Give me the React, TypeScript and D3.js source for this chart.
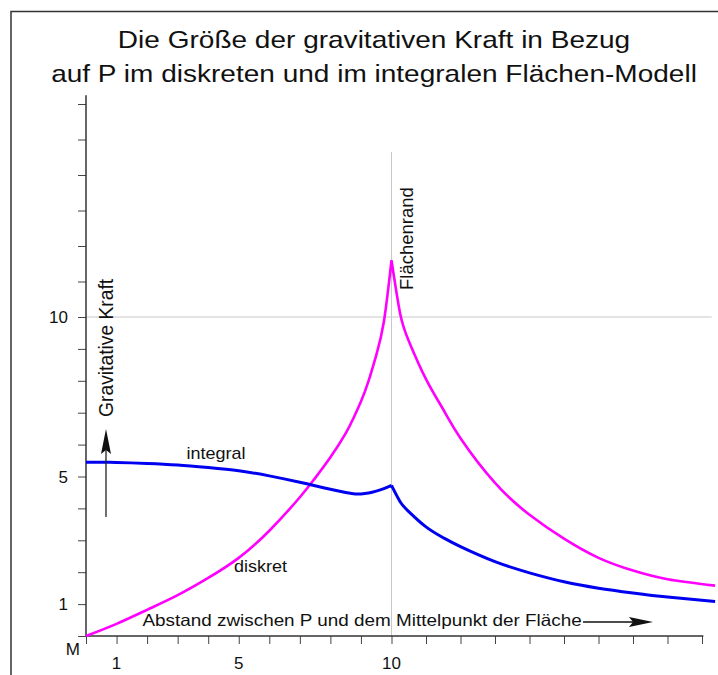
import { useEffect, useRef } from "react";
import * as d3 from "d3";

const titleLines = [
  "Die Größe der gravitativen Kraft in Bezug",
  "auf P im diskreten und im integralen Flächen-Modell",
];

// inside the area: distance from M up to the rim (10)
const distInner = [0, 1, 2, 3, 4, 5, 6, 7, 7.5, 8, 8.5, 8.75, 9, 9.25, 9.5, 9.75, 10];
const diskretInner = [0, 0.38, 0.82, 1.28, 1.82, 2.45, 3.3, 4.35, 4.95, 5.6, 6.35, 6.82, 7.35, 8.0, 8.8, 9.85, 11.6];
const integralInner = [5.45, 5.44, 5.41, 5.36, 5.28, 5.18, 5.02, 4.82, 4.71, 4.6, 4.5, 4.46, 4.455, 4.48, 4.54, 4.62, 4.72];

// outside the area: from the rim outwards
const distOuter = [10, 10.25, 10.5, 11, 11.5, 12, 13, 14, 15, 16, 17, 18, 19.38];
const diskretOuter = [11.6, 10.1, 9.25, 8.05, 7.1, 6.2, 4.8, 3.8, 3.05, 2.45, 2.05, 1.78, 1.58];
const integralOuter = [4.72, 4.21, 3.9, 3.42, 3.08, 2.8, 2.33, 1.98, 1.7, 1.5, 1.35, 1.22, 1.08];

const xTicks = d3.range(0, 20);
const xLabels = [1, 5, 10];
const yTicks = d3.range(0, 17);
const yLabels = [1, 5, 10];

const font = "'Liberation Sans', Arial, sans-serif";

function Chart() {
  const ref = useRef(null);

  useEffect(() => {
    const svg = d3.select(ref.current);
    svg.selectAll("*").remove();

    // the drawing is not quite linear past the rim, so use 3-point scales
    const x = d3.scaleLinear().domain([0, 10, 19]).range([86, 391.5, 702]);
    const y = d3.scaleLinear().domain([0, 10, 16]).range([636, 317, 104]);

    // frame
    svg
      .append("path")
      .attr("d", "M11,675V11.5H718")
      .attr("fill", "none")
      .attr("stroke", "#333")
      .attr("stroke-width", 1.5);

    // title
    titleLines.forEach((t, i) => {
      svg
        .append("text")
        .attr("transform", `translate(374, ${48 + i * 33.5}) scale(1.13, 1)`)
        .attr("text-anchor", "middle")
        .attr("font-family", font)
        .attr("font-size", 24.8)
        .attr("fill", "#111")
        .text(t);
    });

    // grid lines at the rim and at 10
    svg
      .append("line")
      .attr("x1", x(10))
      .attr("x2", x(10))
      .attr("y1", y(14.65))
      .attr("y2", y(0))
      .attr("stroke", "#c8c8c8");
    svg
      .append("line")
      .attr("x1", x(0))
      .attr("x2", x(19.28))
      .attr("y1", y(10))
      .attr("y2", y(10))
      .attr("stroke", "#c8c8c8");

    // axes
    const gx = svg
      .append("g")
      .attr("transform", `translate(0, ${y(0)})`)
      .call(d3.axisBottom(x).tickValues(xTicks).tickSize(8).tickFormat(() => ""));
    const gy = svg
      .append("g")
      .attr("transform", `translate(${x(0)}, 0)`)
      .call(d3.axisLeft(y).tickValues(yTicks).tickSize(8).tickFormat(() => ""));
    [gx, gy].forEach((g) => {
      g.select(".domain").remove();
      g.selectAll(".tick line").attr("stroke", "#444");
    });
    svg
      .append("line")
      .attr("x1", x(0))
      .attr("x2", x(19.04))
      .attr("y1", y(0))
      .attr("y2", y(0))
      .attr("stroke", "#333")
      .attr("stroke-width", 1.5);
    svg
      .append("line")
      .attr("x1", x(0))
      .attr("x2", x(0))
      .attr("y1", y(0))
      .attr("y2", y(16.25))
      .attr("stroke", "#333")
      .attr("stroke-width", 1.5);

    // tick labels
    svg
      .append("g")
      .selectAll("text")
      .data(xLabels)
      .enter()
      .append("text")
      .attr("x", (d) => x(d))
      .attr("y", 669)
      .attr("text-anchor", "middle")
      .attr("font-family", font)
      .attr("font-size", 17)
      .attr("fill", "#111")
      .text((d) => d);
    svg
      .append("g")
      .selectAll("text")
      .data(yLabels)
      .enter()
      .append("text")
      .attr("x", 68)
      .attr("y", (d) => y(d))
      .attr("dy", "0.36em")
      .attr("text-anchor", "end")
      .attr("font-family", font)
      .attr("font-size", 17)
      .attr("fill", "#111")
      .text((d) => d);
    svg
      .append("text")
      .attr("x", 80)
      .attr("y", 655)
      .attr("text-anchor", "end")
      .attr("font-family", font)
      .attr("font-size", 17)
      .attr("fill", "#111")
      .text("M");

    // curves, drawn in two pieces so the rim stays a sharp point
    const line = d3
      .line()
      .x((d) => x(d[0]))
      .y((d) => y(d[1]))
      .curve(d3.curveNatural);
    const branch = (xs, ys) => line(xs.map((v, i) => [v, ys[i]]));

    const series = [
      { inner: diskretInner, outer: diskretOuter, color: "#ff00ff", width: 2.6 },
      { inner: integralInner, outer: integralOuter, color: "#0000f0", width: 3 },
    ];
    series.forEach((s) => {
      svg
        .append("path")
        .attr("d", branch(distInner, s.inner) + branch(distOuter, s.outer))
        .attr("fill", "none")
        .attr("stroke", s.color)
        .attr("stroke-width", s.width)
        .attr("stroke-linejoin", "miter");
    });

    // annotations
    const label = (txt, tx, ty, size, sx) =>
      svg
        .append("text")
        .attr("transform", `translate(${tx}, ${ty}) scale(${sx}, 1)`)
        .attr("font-family", font)
        .attr("font-size", size)
        .attr("fill", "#111")
        .text(txt);

    label("integral", 186.5, 459, 16, 1.125);
    label("diskret", 234, 572, 16, 1.125);
    label("Abstand zwischen P und dem Mittelpunkt der Fläche", 142.5, 626, 16.5, 1.145);

    svg
      .append("text")
      .attr("transform", "translate(413, 290) rotate(-90)")
      .attr("font-family", font)
      .attr("font-size", 18.5)
      .attr("fill", "#111")
      .text("Flächenrand");
    svg
      .append("text")
      .attr("transform", "translate(113, 417) rotate(-90)")
      .attr("font-family", font)
      .attr("font-size", 19.3)
      .attr("fill", "#111")
      .text("Gravitative Kraft");

    // arrows
    svg
      .append("line")
      .attr("x1", 583)
      .attr("x2", 640)
      .attr("y1", 622)
      .attr("y2", 622)
      .attr("stroke", "#111")
      .attr("stroke-width", 1.3);
    svg
      .append("path")
      .attr("d", "M653,622L629,617L633,622L629,627Z")
      .attr("fill", "#111");
    svg
      .append("line")
      .attr("x1", 106)
      .attr("x2", 106)
      .attr("y1", 517)
      .attr("y2", 445)
      .attr("stroke", "#222")
      .attr("stroke-width", 1.3);
    svg
      .append("path")
      .attr("d", "M106,429L101,454L106,450L111,454Z")
      .attr("fill", "#111");

    return () => {
      svg.selectAll("*").remove();
    };
  }, []);

  return (
    <svg
      ref={ref}
      width={718}
      height={675}
      style={{ position: "absolute", left: 0, top: 0, background: "#fff" }}
    />
  );
}

export default function App() {
  return <Chart />;
}
